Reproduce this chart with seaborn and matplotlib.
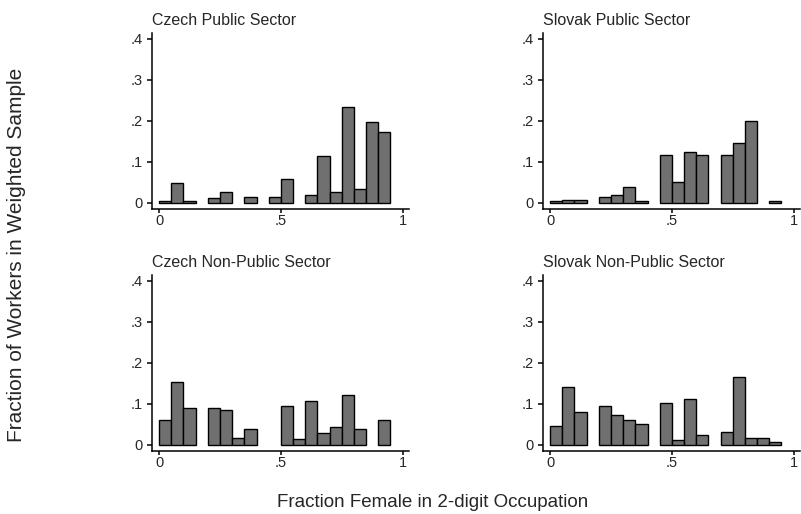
import numpy as np
import pandas as pd
import matplotlib
matplotlib.use("Agg")
import matplotlib.pyplot as plt
import seaborn as sns

# Bin left edges (width 0.05) and weighted fractions
czech_pub_bins = [0.00, 0.05, 0.10, 0.20, 0.25, 0.35, 0.45, 0.50, 0.60, 0.65, 0.70, 0.75, 0.80, 0.85, 0.90]
czech_pub_vals = [0.005, 0.049, 0.005, 0.011, 0.026, 0.015, 0.015, 0.059, 0.019, 0.113, 0.026, 0.233, 0.033, 0.198, 0.172]

slovak_pub_bins = [0.00, 0.05, 0.10, 0.20, 0.25, 0.30, 0.35, 0.45, 0.50, 0.55, 0.60, 0.70, 0.75, 0.80, 0.90]
slovak_pub_vals = [0.005, 0.008, 0.008, 0.015, 0.020, 0.038, 0.005, 0.117, 0.050, 0.125, 0.117, 0.117, 0.146, 0.199, 0.005]

czech_np_bins = [0.00, 0.05, 0.10, 0.20, 0.25, 0.30, 0.35, 0.50, 0.55, 0.60, 0.65, 0.70, 0.75, 0.80, 0.90]
czech_np_vals = [0.061, 0.154, 0.091, 0.091, 0.084, 0.016, 0.039, 0.095, 0.014, 0.106, 0.028, 0.043, 0.121, 0.039, 0.061]

slovak_np_bins = [0.00, 0.05, 0.10, 0.20, 0.25, 0.30, 0.35, 0.45, 0.50, 0.55, 0.60, 0.70, 0.75, 0.80, 0.85, 0.90]
slovak_np_vals = [0.046, 0.142, 0.080, 0.094, 0.072, 0.061, 0.050, 0.102, 0.013, 0.111, 0.024, 0.032, 0.165, 0.016, 0.016, 0.008]

titles = ["Czech Public Sector", "Slovak Public Sector", "Czech Non-Public Sector", "Slovak Non-Public Sector"]
bin_width = 0.05
x_ticks = [0, 0.5, 1]
x_ticklabels = ["0", ".5", "1"]
y_ticks = [0, 0.1, 0.2, 0.3, 0.4]
y_ticklabels = ["0", ".1", ".2", ".3", ".4"]

sns.set_style("white")
plt.rcParams['font.family'] = ['Liberation Sans', 'DejaVu Sans']

fig = plt.figure(figsize=(8.01, 5.14), dpi=100)
W, H = 801, 514
lefts = [152, 543]
tops = [33, 275]
aw, ah = 257, 176

panels = [
    (czech_pub_bins, czech_pub_vals),
    (slovak_pub_bins, slovak_pub_vals),
    (czech_np_bins, czech_np_vals),
    (slovak_np_bins, slovak_np_vals),
]

for i, (bins, vals) in enumerate(panels):
    r, c = divmod(i, 2)
    ax = fig.add_axes([lefts[c] / W, 1 - (tops[r] + ah) / H, aw / W, ah / H])
    df = pd.DataFrame({"x": np.array(bins) + bin_width / 2, "y": vals})
    sns.barplot(data=df, x="x", y="y", native_scale=True, width=1.0,
                color="#707070", saturation=1, edgecolor="black",
                linewidth=1.0, errorbar=None, ax=ax)
    ax.set_xlim(-0.029, 1.026)
    ax.set_ylim(-0.015, 0.414)
    ax.set_xticks(x_ticks)
    ax.set_xticklabels(x_ticklabels)
    ax.set_yticks(y_ticks)
    ax.set_yticklabels(y_ticklabels)
    ax.set_xlabel("")
    ax.set_ylabel("")
    for s in ["top", "right"]:
        ax.spines[s].set_visible(False)
    for s in ["left", "bottom"]:
        ax.spines[s].set_color("black")
        ax.spines[s].set_linewidth(1.1)
    ax.tick_params(axis="y", which="major", direction="out", length=3.5,
                   width=1.1, color="black", labelsize=10.5, pad=3, left=True)
    ax.tick_params(axis="x", which="major", direction="out", length=3,
                   width=1.1, color="black", labelsize=10.5, pad=0.5, bottom=True)
    ax.annotate(titles[i], xy=(0, 1), xycoords="axes fraction",
                xytext=(0, 6), textcoords="offset points",
                ha="left", va="baseline", fontsize=11.5)

fig.text(433 / W, 1 - 507 / H, "Fraction Female in 2-digit Occupation",
         ha="center", va="baseline", fontsize=13.5)
fig.text(22 / W, 1 - 255 / H, "Fraction of Workers in Weighted Sample",
         ha="center", va="baseline", rotation=90, rotation_mode="anchor",
         fontsize=15)

fig.savefig("out.png", dpi=100, facecolor="white")
